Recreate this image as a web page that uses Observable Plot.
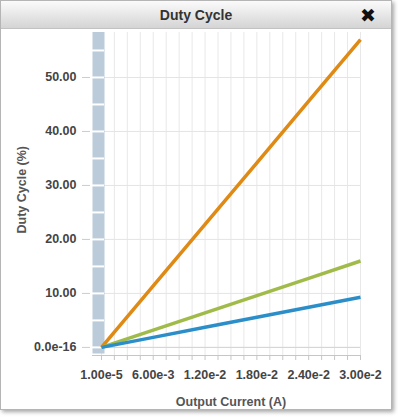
<!DOCTYPE html>
<html><head><meta charset="utf-8">
<script src="https://cdn.jsdelivr.net/npm/d3@7"></script>
<script src="https://cdn.jsdelivr.net/npm/@observablehq/plot@0.6"></script>
<style>
body{margin:0;background:#fff;font-family:"Liberation Sans",Arial,sans-serif;}
#panel{position:absolute;left:0;top:0;width:390px;height:408px;border:1px solid #b5b5b5;box-shadow:2px 2px 4px rgba(0,0,0,0.35);background:#fff;overflow:hidden;}
#title{position:absolute;left:0;top:0;width:390px;height:27px;background:linear-gradient(#fbfbfb,#d4d4d4);border-bottom:1px solid #c2c2c2;text-align:center;font-weight:bold;font-size:14px;color:#333;line-height:29px;}
#close{position:absolute;left:359px;top:0;font-size:19px;color:#111;font-family:"DejaVu Sans",sans-serif;line-height:28px;}
#chart{position:absolute;left:0;top:28px;}
</style>
</head><body>
<div id="panel">
  <div id="title">Duty Cycle</div>
  <div id="close">✖</div>
  <div id="chart"></div>
</div>
<script>
// data
const current = [1e-5, 6e-3, 1.2e-2, 1.8e-2, 2.4e-2, 3e-2];
const seriesA = [0, 11.4, 22.8, 34.2, 45.6, 57.0];   // orange
const seriesB = [0, 3.2, 6.4, 9.6, 12.8, 16.0];      // green
const seriesC = [0, 1.86, 3.72, 5.58, 7.44, 9.3];    // blue
const seriesNames = ["A", "B", "C"];
const seriesColors = ["#df8a14", "#a1bb4b", "#2b8ec9"];

const xTickValues = [1e-5, 6e-3, 1.2e-2, 1.8e-2, 2.4e-2, 3e-2];
const xTickLabels = ["1.00e-5", "6.00e-3", "1.20e-2", "1.80e-2", "2.40e-2", "3.00e-2"];
const xMinorTicks = [1e-5, 1.5e-3, 3e-3, 4.5e-3, 6e-3, 7.5e-3, 9e-3, 1.05e-2, 1.2e-2, 1.35e-2, 1.5e-2,
  1.65e-2, 1.8e-2, 1.95e-2, 2.1e-2, 2.25e-2, 2.4e-2, 2.55e-2, 2.7e-2, 2.85e-2, 3e-2];
const yTickValues = [0, 10, 20, 30, 40, 50];
const yTickLabels = ["0.0e-16", "10.00", "20.00", "30.00", "40.00", "50.00"];
const bandSeparators = [0, 5, 10, 15, 20, 25, 30, 35, 40, 45, 50, 55];

const xTitle = "Output Current (A)";
const yTitle = "Duty Cycle (%)";

const xMin = 1e-5, xMax = 3e-2;
const yMin = -1.5, yMax = 58.33;

const rows = [];
[seriesA, seriesB, seriesC].forEach((vals, s) => {
  vals.forEach((v, i) => rows.push({series: seriesNames[s], x: current[i], y: v}));
});

const font = {fontSize: 12.5, fontWeight: "bold"};

const chart = Plot.plot({
  width: 390,
  height: 380,
  marginLeft: 100,
  marginRight: 31,
  marginTop: 3,
  marginBottom: 54,
  style: {fontFamily: "'Liberation Sans', Arial, sans-serif", color: "#444", background: "transparent"},
  x: {domain: [xMin, xMax], label: null},
  y: {domain: [yMin, yMax], label: null},
  color: {domain: seriesNames, range: seriesColors},
  marks: [
    Plot.ruleX(xMinorTicks, {y1: yMin, y2: yMax, stroke: "#e8e8e8", strokeWidth: 1}),
    Plot.ruleY(yTickValues, {x1: xMin, x2: xMax, stroke: "#e4e4e4", strokeWidth: 1}),
    Plot.ruleY([0], {x1: xMin, x2: xMax, stroke: "#d4d4d4", strokeWidth: 1, insetLeft: -9}),
    Plot.ruleX([xMin], {y1: -1.2, y2: yMax, stroke: "#bccbda", strokeWidth: 12, dx: -3}),
    Plot.ruleY(bandSeparators, {x1: xMin, x2: xMin, insetLeft: -9, insetRight: -3, stroke: "#fff", strokeWidth: 2}),
    Plot.ruleY([yMin], {x1: xMin, x2: xMax, stroke: "#c6c6c6", strokeWidth: 1, insetLeft: -9}),
    Plot.axisX(xMinorTicks, {tickSize: 5, tickFormat: () => "", stroke: "#c6c6c6", label: null}),
    Plot.axisX(xTickValues, {tickSize: 0, tickPadding: 15, tickFormat: d => xTickLabels[xTickValues.indexOf(d)], fill: "#444", ...font, label: null}),
    Plot.axisY(yTickValues, {tickSize: 8, tickPadding: 6, dx: -11, stroke: "#cccccc", tickFormat: () => "", label: null}),
    Plot.axisY(yTickValues, {tickSize: 0, tickPadding: 25, tickFormat: d => yTickLabels[yTickValues.indexOf(d)], fill: "#444", ...font, label: null}),
    Plot.line(rows, {x: "x", y: "y", z: "series", stroke: "series", strokeWidth: 3.5, strokeLinecap: "butt"}),
    Plot.text([xTitle], {frameAnchor: "bottom", dy: 50, fill: "#555", ...font}),
    Plot.text([yTitle], {frameAnchor: "left", rotate: -90, textAnchor: "start", dx: -79.5, dy: 39.5, fill: "#555", ...font})
  ]
});
document.getElementById("chart").appendChild(chart);
</script>
</body></html>
